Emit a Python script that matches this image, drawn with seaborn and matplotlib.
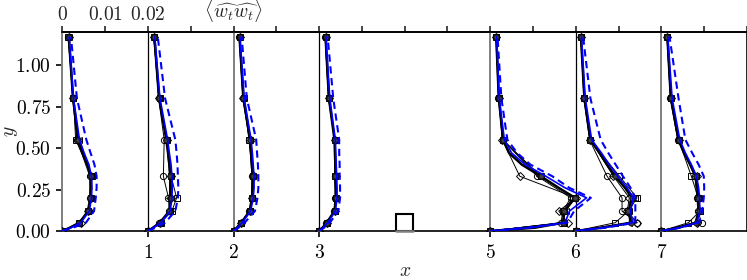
import numpy as np
import matplotlib
matplotlib.use("Agg")
import matplotlib.pyplot as plt
from matplotlib.patches import Rectangle
import seaborn as sns

# %%
# stations along the channel and the profile scaling (0.02 of <w w> = 1 unit of x)
stations = [0, 1, 2, 3, 5, 6, 7]
scale = 50.0

# y levels of the measurements (markers) and of the denser lines
y_exp = [0.0, 0.05, 0.12, 0.2, 0.33, 0.55, 0.8, 1.17]
y_fine = [0.0, 0.02, 0.05, 0.12, 0.2, 0.26, 0.33, 0.4, 0.47, 0.55, 0.8, 1.17]

# values in units of 1e-3, one row per station
exp_mean = [
    [0, 1.8, 4.0, 6.0, 6.5, 6.7, 6.6, 5.9, 4.8, 3.7, 2.5, 1.5],
    [0, 1.2, 2.8, 5.0, 5.3, 5.3, 5.2, 5.0, 4.7, 4.3, 2.6, 1.5],
    [0, 0.8, 1.8, 3.8, 4.3, 4.5, 4.5, 4.3, 4.1, 3.9, 2.3, 1.4],
    [0, 0.8, 1.8, 3.6, 3.9, 3.9, 3.8, 3.8, 3.7, 3.6, 2.3, 1.5],
    [0, 10.5, 17.0, 17.3, 19.8, 16.0, 11.8, 7.4, 4.4, 3.0, 2.0, 1.4],
    [0, 6.0, 12.9, 12.3, 13.1, 11.5, 9.2, 7.3, 5.6, 3.4, 2.0, 1.2],
    [0, 4.0, 8.0, 8.7, 8.6, 8.4, 8.0, 6.8, 5.3, 4.0, 2.2, 1.4],
]
les_solid = [
    [0, 2.0, 4.3, 6.3, 6.8, 6.9, 6.8, 6.2, 5.1, 4.0, 2.6, 1.6],
    [0, 1.3, 3.0, 5.2, 5.6, 5.7, 5.6, 5.4, 5.0, 4.6, 2.8, 1.6],
    [0, 0.9, 2.0, 4.0, 4.6, 4.8, 4.8, 4.6, 4.4, 4.1, 2.5, 1.5],
    [0, 0.9, 2.0, 3.8, 4.2, 4.2, 4.1, 4.0, 3.9, 3.8, 2.5, 1.6],
    [0, 9.5, 17.5, 18.5, 22.5, 17.5, 13.0, 8.2, 5.0, 3.3, 2.1, 1.5],
    [0, 6.5, 13.2, 12.8, 13.4, 12.0, 9.8, 7.8, 6.0, 3.7, 2.2, 1.3],
    [0, 4.2, 8.3, 9.0, 8.9, 8.7, 8.2, 7.0, 5.6, 4.3, 2.5, 1.5],
]
les_dashed = [
    [0, 2.5, 5.5, 7.4, 7.8, 8.0, 8.0, 7.5, 6.6, 5.6, 3.4, 2.0],
    [0, 1.8, 4.0, 6.4, 7.0, 7.1, 7.0, 6.9, 6.7, 6.4, 4.0, 2.3],
    [0, 1.2, 2.6, 5.0, 5.6, 5.8, 5.8, 5.7, 5.5, 5.3, 3.1, 1.9],
    [0, 1.2, 2.5, 4.5, 4.9, 4.9, 4.8, 4.8, 4.7, 4.7, 3.3, 2.0],
    [0, 8.5, 18.0, 19.6, 23.5, 18.5, 14.5, 9.4, 6.3, 4.0, 2.6, 1.7],
    [0, 7.0, 13.9, 13.9, 13.9, 12.8, 11.0, 9.3, 7.6, 5.8, 3.4, 1.7],
    [0, 4.5, 8.8, 9.5, 9.9, 10.0, 9.9, 8.7, 7.2, 5.6, 4.0, 1.9],
]

# individual runs, at the measurement levels
run_circle = [
    [0, 3.8, 6.2, 6.4, 6.4, 3.4, 2.4, 1.4],
    [0, 2.6, 5.0, 4.8, 3.6, 3.8, 2.5, 1.4],
    [0, 1.7, 3.7, 4.2, 4.3, 3.7, 2.2, 1.3],
    [0, 1.7, 3.5, 3.8, 3.6, 3.6, 2.2, 1.4],
    [0, 16.5, 17.0, 18.8, 11.0, 2.9, 1.9, 1.3],
    [0, 14.3, 10.8, 10.8, 7.3, 3.2, 1.9, 1.1],
    [0, 9.4, 8.5, 8.3, 7.8, 3.8, 2.1, 1.3],
]
run_square = [
    [0, 3.9, 6.1, 6.7, 6.9, 3.1, 2.6, 1.3],
    [0, 3.0, 5.6, 6.7, 5.4, 4.4, 2.7, 1.3],
    [0, 1.8, 3.9, 4.4, 4.6, 3.6, 2.4, 1.4],
    [0, 1.9, 3.7, 3.9, 3.8, 3.6, 2.3, 1.5],
    [0, 17.2, 17.2, 19.4, 11.8, 2.9, 2.0, 1.4],
    [0, 9.2, 12.3, 14.3, 10.2, 3.3, 2.0, 1.2],
    [0, 6.3, 9.0, 8.6, 7.0, 4.0, 2.2, 1.4],
]
run_diamond = [
    [0, 4.3, 6.0, 6.6, 6.8, 3.6, 2.5, 1.5],
    [0, 2.7, 5.2, 5.3, 5.4, 4.5, 2.6, 1.5],
    [0, 1.8, 3.8, 4.3, 4.8, 4.0, 2.3, 1.4],
    [0, 1.8, 3.7, 3.9, 3.9, 3.7, 2.3, 1.5],
    [0, 18.1, 16.0, 20.0, 6.9, 2.8, 2.0, 1.4],
    [0, 14.3, 12.0, 12.5, 8.8, 3.4, 2.0, 1.2],
    [0, 8.3, 8.8, 8.7, 8.2, 4.0, 2.2, 1.4],
]
run_tri = [
    [0, 4.0, 6.1, 6.5, 6.6, 3.8, 2.4, 1.5],
    [0, 2.8, 5.2, 5.0, 5.1, 4.3, 2.5, 1.4],
    [0, 1.7, 3.8, 4.2, 4.4, 3.8, 2.2, 1.3],
    [0, 1.8, 3.6, 3.8, 3.8, 3.7, 2.2, 1.4],
    [0, 17.0, 17.6, 19.8, 11.5, 3.0, 2.0, 1.4],
    [0, 12.5, 12.5, 13.8, 9.0, 3.3, 1.9, 1.2],
    [0, 7.8, 9.1, 8.7, 8.0, 3.9, 2.1, 1.3],
]

left_ticks = [0.0, 0.25, 0.5, 0.75, 1.0]
bottom_ticks = [1, 2, 3, 5, 6, 7]
top_named = {0.0: "$0$", 0.5: "$0.01$", 1.0: "$0.02$",
             2.0: r"$\langle\widehat{w_t}\widehat{w_t}\rangle$"}

# %%
sns.set_theme(style="ticks")
plt.rcParams["font.family"] = "serif"
plt.rcParams["font.serif"] = ["cmr10", "DejaVu Serif"]
plt.rcParams["mathtext.fontset"] = "cm"
plt.rcParams["axes.formatter.use_mathtext"] = True
fs = 14

fig = plt.figure(figsize=(7.47, 2.8), dpi=100)
ax = fig.add_axes([0.0835, 0.175, 0.9165, 0.711])


def to_x(station, vals):
    return station + np.asarray(vals) * 1e-3 * scale


markevery = [y_fine.index(v) for v in y_exp]

for i, s in enumerate(stations):
    # station reference lines
    ax.axvline(s, color="0.5" if s in (0, 2, 5, 7) else "black",
               lw=1.4 if s in (0, 2, 5, 7) else 0.9, zorder=1)
    for vals, mk in [(run_circle, "o"), (run_square, "s"),
                     (run_diamond, "D"), (run_tri, "<")]:
        sns.lineplot(x=to_x(s, vals[i]), y=y_exp, sort=False, estimator=None,
                     ax=ax, color="black", lw=0.7, marker=mk,
                     markersize=4.5 if mk != "D" else 3.8,
                     markerfacecolor="none", markeredgecolor="black",
                     markeredgewidth=0.7, zorder=3)
    sns.lineplot(x=to_x(s, exp_mean[i]), y=y_fine, sort=False, estimator=None,
                 ax=ax, color="black", lw=1.8, marker="o", markersize=3.5,
                 markevery=markevery, markerfacecolor="0.25", markeredgecolor="0.1",
                 zorder=4)
    sns.lineplot(x=to_x(s, les_solid[i]), y=y_fine, sort=False, estimator=None,
                 ax=ax, color="#0000ff", lw=1.2, zorder=5)
    sns.lineplot(x=to_x(s, les_dashed[i]), y=y_fine, sort=False, estimator=None,
                 ax=ax, color="#0000ff", lw=1.5, ls=(0, (3.5, 2.2)), zorder=5)

# obstacle
ax.add_patch(Rectangle((3.9, 0.0), 0.2, 0.1, fill=False, edgecolor="black", lw=1.5, zorder=6))
ax.plot([3.9, 4.1], [0, 0], color="0.5", lw=1.8, zorder=7, clip_on=False)

ax.set_xlim(0, 8)
ax.set_ylim(0, 1.2)
ax.set_xticks(bottom_ticks)
ax.set_xticklabels([f"${t}$" for t in bottom_ticks])
ax.set_yticks(left_ticks)
ax.set_yticklabels([f"${t:.2f}$" for t in left_ticks])
ax.tick_params(axis="both", direction="out", length=4, width=1.2, colors="black",
               pad=4, labelsize=fs)
ax.tick_params(axis="x", pad=5)
for side in ["top", "right", "bottom"]:
    ax.spines[side].set_color("black")
    ax.spines[side].set_linewidth(1.2)
ax.spines["left"].set_color("0.5")
ax.spines["left"].set_linewidth(1.4)

ax.set_xlabel("$x$", fontsize=fs)
ax.xaxis.set_label_coords(0.5, -0.155)
ax.set_ylabel("$y$", fontsize=fs)
ax.yaxis.set_label_coords(-0.062, 0.5)

# top axis with the profile scale
top = ax.secondary_xaxis("top")
top_ticks = np.arange(0, 8.01, 0.5)
top.set_xticks(top_ticks)
top.set_xticklabels([top_named.get(float(t), "") for t in top_ticks])
top.tick_params(direction="out", length=4, width=1.2, pad=1.5, labelsize=fs)
top.spines["top"].set_color("black")

fig.savefig("out.png", dpi=100)
